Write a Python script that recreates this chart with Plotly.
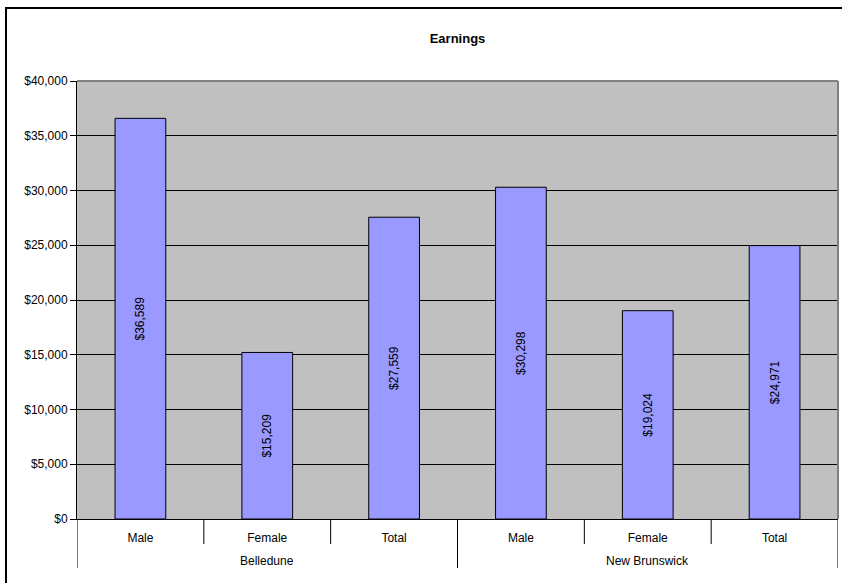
import plotly.graph_objects as go

groups = ["Belledune", "New Brunswick"]
genders = ["Male", "Female", "Total"]
earnings_belledune = [36589, 15209, 27559]
earnings_new_brunswick = [30298, 19024, 24971]
y_ticks = [0, 5000, 10000, 15000, 20000, 25000, 30000, 35000, 40000]
y_tick_labels = ["$0", "$5,000", "$10,000", "$15,000", "$20,000", "$25,000", "$30,000", "$35,000", "$40,000"]

values = earnings_belledune + earnings_new_brunswick
labels = genders * len(groups)
xpos = list(range(len(values)))
n_in = len(genders)

W, H = 842, 583
ml, mr, mt, mb = 77, 4, 81, 64
pw, ph = W - ml - mr, H - mt - mb
FONT = "Liberation Sans, Arial, sans-serif"

fig = go.Figure()
fig.add_trace(go.Bar(
    x=xpos,
    y=values,
    width=0.4,
    marker=dict(color="#9999FF", line=dict(color="black", width=1)),
    text=[f"${v:,}" for v in values],
    textposition="inside",
    insidetextanchor="middle",
    textangle=-90,
    textfont=dict(family=FONT, size=12, color="black"),
    hoverinfo="skip",
))

fig.update_layout(
    width=W, height=H,
    margin=dict(l=ml, r=mr, t=mt, b=mb, autoexpand=False),
    paper_bgcolor="white",
    plot_bgcolor="#C0C0C0",
    showlegend=False,
    font=dict(family=FONT, size=12, color="black"),
    title=dict(text="<b>Earnings</b>", x=(ml + pw / 2) / W, xanchor="center",
               y=1 - 38 / H, yanchor="middle", font=dict(size=13, color="black")),
)
fig.update_yaxes(
    range=[0, 40000],
    tickvals=y_ticks, ticktext=y_tick_labels,
    showgrid=True, gridcolor="black", gridwidth=1,
    showline=True, linecolor="black", linewidth=1,
    ticks="outside", ticklen=6, tickcolor="black",
    zeroline=False, automargin=False,
    fixedrange=True,
)
fig.update_xaxes(
    range=[-0.5, len(values) - 0.5],
    tickvals=xpos, ticktext=labels,
    showline=True, linecolor="black", linewidth=1,
    ticks="", ticklabelstandoff=8,
    showgrid=False, zeroline=False, automargin=False,
    fixedrange=True,
)

# inner category tick marks and group dividers
for i in range(len(values) + 1):
    b = i - 0.5
    is_div = (i % n_in == 0)
    depth = 49 if is_div else 25
    fig.add_shape(type="line", xref="x", yref="paper", x0=b, x1=b,
                  y0=0, y1=-depth / ph, line=dict(color="black", width=1))
# group labels
for g, name in enumerate(groups):
    fig.add_annotation(x=g * n_in + (n_in - 1) / 2, y=-42 / ph, xref="x", yref="paper",
                       text=name, showarrow=False, yanchor="middle",
                       font=dict(family=FONT, size=12, color="black"))

# plot area top/right border (gray)
fig.add_shape(type="line", xref="paper", yref="paper", x0=0, x1=1, y0=1, y1=1,
              line=dict(color="#808080", width=2), layer="above")
fig.add_shape(type="line", xref="paper", yref="paper", x0=1, x1=1, y0=0, y1=1,
              line=dict(color="#808080", width=2), layer="above")
# outer chart border
fig.add_shape(type="rect", xref="paper", yref="paper",
              x0=(6 - ml) / pw, x1=(W + 5 - ml) / pw,
              y0=-(H + 5 - mt - ph) / ph, y1=1 + (mt - 8) / ph,
              line=dict(color="black", width=2), layer="above")

fig.write_html("out.html", config={"displayModeBar": False},
               post_script="document.body.style.margin='0';")
